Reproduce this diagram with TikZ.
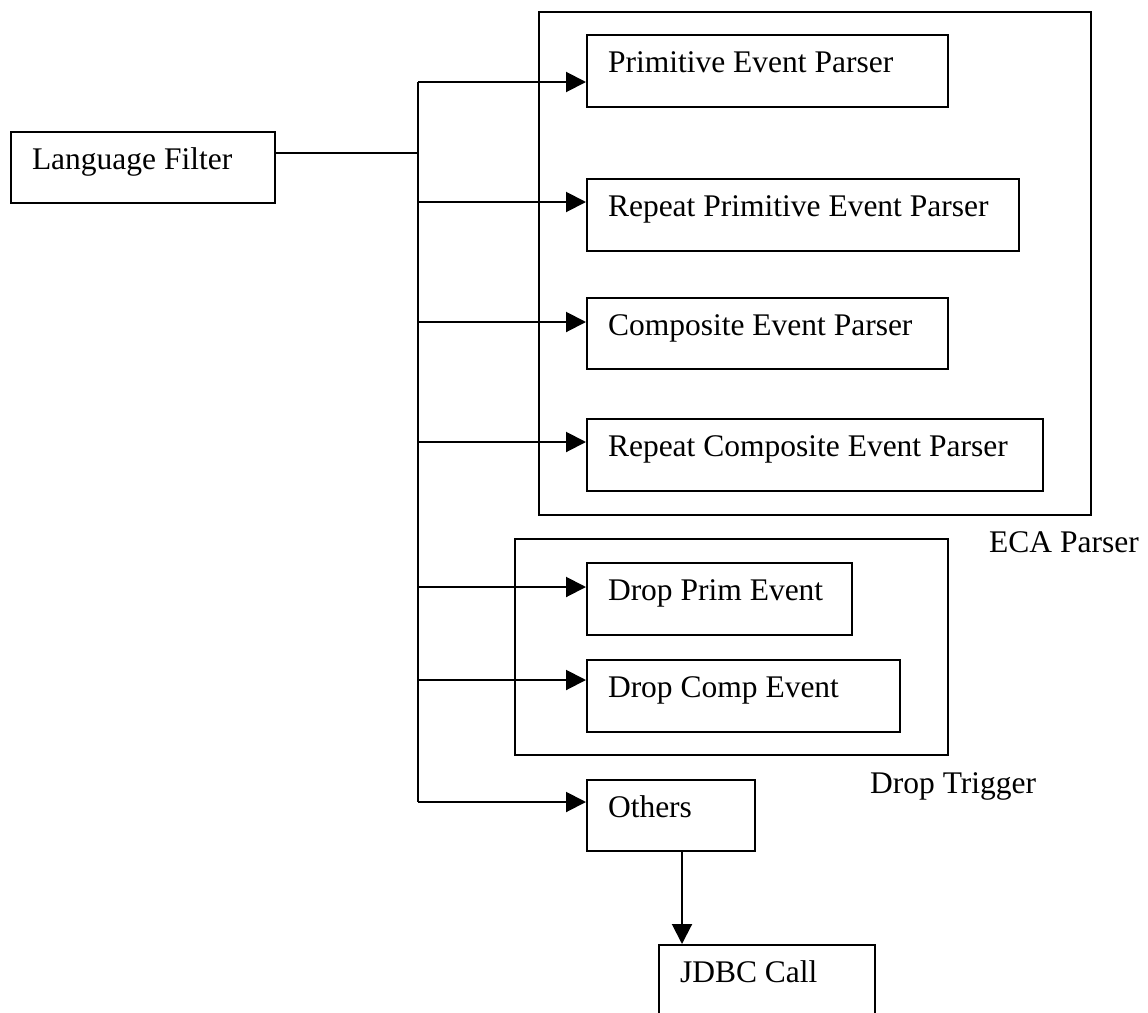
\documentclass[tikz,border=0pt]{standalone}
\usepackage{fontspec}
\setmainfont{Liberation Serif}
\usetikzlibrary{arrows.meta}
\begin{document}
\begin{tikzpicture}[x=1pt,y=-1pt,
  every node/.style={font=\fontsize{31.5}{36}\selectfont},
  blk/.style={draw, line width=2pt, anchor=north west, inner xsep=21pt,
    inner ysep=0pt, align=flush left, text height=0.7em, text depth=0.38em},
  grp/.style={draw, line width=2pt, anchor=north west, inner sep=0pt},
  wire/.style={line width=2pt},
  feed/.style={wire, -{Triangle[length=20pt,width=20pt]}},
  caption/.style={anchor=base west, inner sep=0pt}]
\useasboundingbox (0,0) rectangle (1148,1012);
\clip (0,0) rectangle (1148,1012);

% group frames
\node[grp, minimum width=552pt, minimum height=503pt] (eca) at (538,11) {};
\node[grp, minimum width=433pt, minimum height=216pt] (dt) at (514,538) {};
\node[caption] (ecal) at (989,552) {ECA Parser};
\node[caption] (dtl) at (870,793) {Drop Trigger};

% blocks
\node[blk, text width=222pt, minimum height=71pt] (lf) at (10,131) {Language Filter};
\node[blk, text width=319pt, minimum height=72pt] (pep) at (586,34) {Primitive Event Parser};
\node[blk, text width=390pt, minimum height=72pt] (rpep) at (586,178) {Repeat Primitive Event Parser};
\node[blk, text width=319pt, minimum height=71pt] (cep) at (586,297) {Composite Event Parser};
\node[blk, text width=414pt, minimum height=72pt] (rcep) at (586,418) {Repeat Composite Event Parser};
\node[blk, text width=223pt, minimum height=72pt] (dpe) at (586,562) {Drop Prim Event};
\node[blk, text width=271pt, minimum height=72pt] (dce) at (586,659) {Drop Comp Event};
\node[blk, text width=126pt, minimum height=71pt] (oth) at (586,779) {Others};
\node[blk, text width=174pt, minimum height=72pt] (jdbc) at (658,944) {JDBC Call};

% distribution bus
\coordinate (jl) at (418,153);
\coordinate (j1) at (418,82);
\coordinate (j2) at (418,202);
\coordinate (j3) at (418,322);
\coordinate (j4) at (418,442);
\coordinate (j5) at (418,587);
\coordinate (j6) at (418,680);
\coordinate (j7) at (418,802);
\coordinate (jx) at (682,0);

\draw[wire] (jl -| lf.east) -- (jl);
\draw[wire] (j1) -- (j7);
\draw[feed] (j1) -- (j1 -| pep.west);
\draw[feed] (j2) -- (j2 -| rpep.west);
\draw[feed] (j3) -- (j3 -| cep.west);
\draw[feed] (j4) -- (j4 -| rcep.west);
\draw[feed] (j5) -- (j5 -| dpe.west);
\draw[feed] (j6) -- (j6 -| dce.west);
\draw[feed] (j7) -- (j7 -| oth.west);
\draw[feed] (jx |- oth.south) -- (jx |- jdbc.north);
\end{tikzpicture}
\end{document}
